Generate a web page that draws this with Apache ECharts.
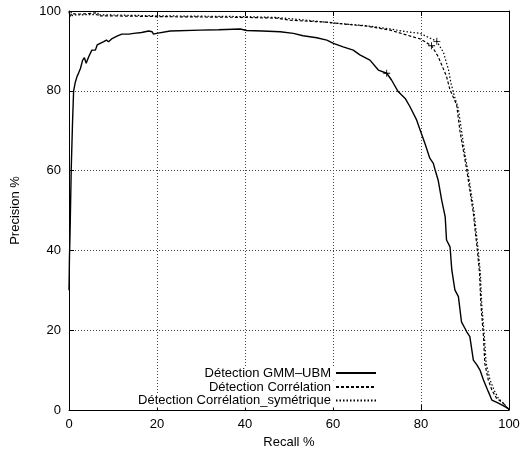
<!DOCTYPE html>
<html>
<head>
<meta charset="utf-8">
<script src="https://cdn.jsdelivr.net/npm/echarts@6/dist/echarts.min.js"></script>
<style>html,body{margin:0;padding:0;background:#fff;}#c{width:521px;height:450px;}</style>
</head>
<body>
<div id="c"></div>
<script>
// ---- data ----
var seriesNames = ['Détection GMM–UBM', 'Détection Corrélation', 'Détection Corrélation_symétrique'];
var xTicks = [0, 20, 40, 60, 80, 100];
var yTicks = [0, 20, 40, 60, 80, 100];

var gmmRecall = [0, 0.1, 0.25, 0.5, 0.8, 1.05, 1.4, 1.8, 2.2, 2.6, 3.1, 3.5, 3.9, 4.5, 5.2, 5.6, 6.0, 6.4, 7.1, 7.9, 8.5, 9.0, 9.8, 10.9, 12.0, 13.6, 14.7, 16.5, 18.1, 18.9, 19.2, 19.9, 23, 29.8, 34, 38.9, 40.4, 44, 48, 51, 53.2, 56.3, 58.6, 60.1, 62.3, 64.6, 66.1, 68.4, 70.3, 72.2, 73.3, 74.8, 76.4, 77.5, 79.0, 79.8, 80.9, 82.0, 82.8, 83.2, 83.9, 84.7, 85.5, 85.8, 86.6, 87.0, 87.7, 88.5, 89.2, 90.4, 91.1, 91.9, 92.7, 93.4, 94.2, 95.3, 96.1, 97.6, 99.8, 100];
var gmmPrecision = [30, 38, 45, 60, 72, 80, 82, 83.5, 84.5, 85.6, 87.7, 88.3, 86.9, 88.6, 90.2, 90.6, 90.2, 91.5, 91.9, 92.3, 92.7, 92.3, 93.1, 93.7, 94.2, 94.2, 94.4, 94.6, 95.0, 94.8, 94.2, 94.4, 95.0, 95.2, 95.3, 95.5, 95.1, 95.0, 94.8, 94.4, 93.8, 93.3, 92.7, 91.9, 91.0, 90.2, 89.0, 87.7, 85.2, 84.4, 82.7, 79.8, 78.1, 76.0, 72.7, 70.2, 66.8, 63.1, 61.8, 60.2, 57.6, 52.6, 48.4, 42.6, 40.9, 35.1, 30.1, 28.4, 22.1, 19.6, 18.4, 12.5, 11.3, 10.0, 7.5, 4.6, 2.5, 1.7, 0.4, 0];

var corrRecall = [0, 0.3, 0.6, 1.5, 4, 4.1, 6.6, 6.6, 15, 20, 30, 40, 47.2, 50.2, 55, 58.6, 62, 67.7, 73, 76.7, 79.8, 82.4, 83.9, 85.8, 86.6, 88.1, 88.9, 89.2, 90.0, 90.4, 91.1, 91.9, 92.3, 92.8, 93.3, 93.6, 94.2, 94.5, 95.3, 96.1, 97.2, 98.7, 100];
var corrPrecision = [99.8, 98.6, 99.4, 99.2, 99.3, 99.6, 99.6, 98.8, 98.7, 98.6, 98.5, 98.4, 98.2, 97.7, 97.4, 97.2, 96.8, 96.2, 95.2, 94.0, 93.0, 91.3, 88.6, 83.6, 80.2, 76.5, 69.5, 67.7, 62.7, 60.2, 55.1, 49.3, 45.1, 40.1, 34.3, 26.7, 18.4, 11.7, 7.5, 5.0, 2.9, 1.7, 0];

var symRecall = [0, 0.4, 0.8, 1.5, 5, 10, 20, 30, 40, 47, 50, 55, 60, 67.7, 73, 76.7, 79.8, 83.6, 85.1, 86.2, 86.8, 87.5, 88.5, 89.4, 90.2, 90.6, 91.3, 92.1, 92.5, 93.0, 93.5, 93.8, 94.4, 94.8, 95.7, 96.6, 97.6, 98.9, 100];
var symPrecision = [99.4, 100, 98.8, 99.0, 99.1, 99.0, 98.8, 98.7, 98.6, 98.4, 98.1, 97.6, 97.0, 96.3, 95.5, 94.8, 94.4, 92.4, 89.6, 85.5, 82, 79, 75.5, 68.5, 62.7, 60.2, 55.1, 49.3, 45.1, 40.1, 34.3, 26.7, 18.4, 11.7, 7.5, 5.0, 2.9, 1.5, 0];

// indices of points marked with a "+" in the reference
var gmmMarks = [49];
var corrMarks = [21];
var symMarks = [17];

// ---- build ----
function zip(a, b) { return a.map(function (v, i) { return [v, b[i]]; }); }
function marks(xs, ys, idx) {
  return idx.map(function (i) { return { coord: [xs[i], ys[i]] }; });
}
var FONT = 'Liberation Sans';
var plusPath = 'path://M4.4,0H5.6V10H4.4ZM0,4.4H10V5.6H0Z';
function mp(xs, ys, idx) {
  return {
    symbol: plusPath, symbolSize: 7, silent: true,
    itemStyle: { color: '#000' }, label: { show: false },
    data: marks(xs, ys, idx)
  };
}

var chart = echarts.init(document.getElementById('c'), null, { renderer: 'canvas' });
var axisCommon = {
  type: 'value', min: 0, max: 100, interval: 20,
  axisLine: { show: true, onZero: false, lineStyle: { color: '#000', width: 1 } },
  axisTick: { show: true, inside: true, length: 5, lineStyle: { color: '#000' } }
};
function legendFor(name, top) {
  return {
    data: [name], right: 140, top: top, align: 'right', orient: 'horizontal',
    itemWidth: 40, itemHeight: 13, itemGap: 0, padding: [0, 4, 0.5, 4],
    backgroundColor: '#fff', selectedMode: false,
    itemStyle: { color: 'rgba(0,0,0,0)', borderWidth: 0, opacity: 0 },
    textStyle: { fontFamily: FONT, fontSize: 13, color: '#000', lineHeight: 13 }
  };
}
var option = {
  animation: false,
  backgroundColor: '#fff',
  grid: { left: 69, right: 12, top: 11, bottom: 40, containLabel: false, outerBoundsMode: 'none' },
  legend: [legendFor(seriesNames[0], 366.5), legendFor(seriesNames[1], 380.5), legendFor(seriesNames[2], 394)],
  xAxis: [
    Object.assign({}, axisCommon, {
      position: 'bottom', name: 'Recall %', nameLocation: 'middle', nameGap: 26,
      nameTextStyle: { fontFamily: FONT, fontSize: 13, color: '#000' },
      axisLabel: { fontFamily: FONT, fontSize: 13, color: '#000', margin: 8,
        formatter: function (v) { return xTicks.indexOf(v) >= 0 ? String(v) : ''; } },
      splitLine: { show: true, lineStyle: { color: '#444', type: [1, 2], width: 1 } }
    }),
    Object.assign({}, axisCommon, {
      position: 'top', axisLabel: { show: false }, splitLine: { show: false }
    })
  ],
  yAxis: [
    Object.assign({}, axisCommon, {
      position: 'left', name: 'Precision %', nameLocation: 'middle', nameGap: 47,
      nameTextStyle: { fontFamily: FONT, fontSize: 13, color: '#000' },
      axisLabel: { fontFamily: FONT, fontSize: 13, color: '#000', margin: 8,
        formatter: function (v) { return yTicks.indexOf(v) >= 0 ? String(v) : ''; } },
      splitLine: { show: true, lineStyle: { color: '#444', type: [1, 2], width: 1 } }
    }),
    Object.assign({}, axisCommon, {
      position: 'right', axisLabel: { show: false }, splitLine: { show: false }
    })
  ],
  series: [
    { name: seriesNames[0], type: 'line', xAxisIndex: 0, yAxisIndex: 0, symbol: 'none',
      data: zip(gmmRecall, gmmPrecision), z: 5,
      lineStyle: { color: '#000', width: 1.4, type: 'solid' }, itemStyle: { color: '#000' },
      markPoint: mp(gmmRecall, gmmPrecision, gmmMarks) },
    { name: seriesNames[1], type: 'line', xAxisIndex: 0, yAxisIndex: 0, symbol: 'none',
      data: zip(corrRecall, corrPrecision), z: 4,
      lineStyle: { color: '#000', width: 1.2, type: [3, 2] }, itemStyle: { color: '#000' },
      markPoint: mp(corrRecall, corrPrecision, corrMarks) },
    { name: seriesNames[2], type: 'line', xAxisIndex: 0, yAxisIndex: 0, symbol: 'none',
      data: zip(symRecall, symPrecision), z: 3,
      lineStyle: { color: '#000', width: 1.2, type: [1.5, 2] }, itemStyle: { color: '#000' },
      markPoint: mp(symRecall, symPrecision, symMarks) }
  ]
};
chart.setOption(option);
</script>
</body>
</html>
